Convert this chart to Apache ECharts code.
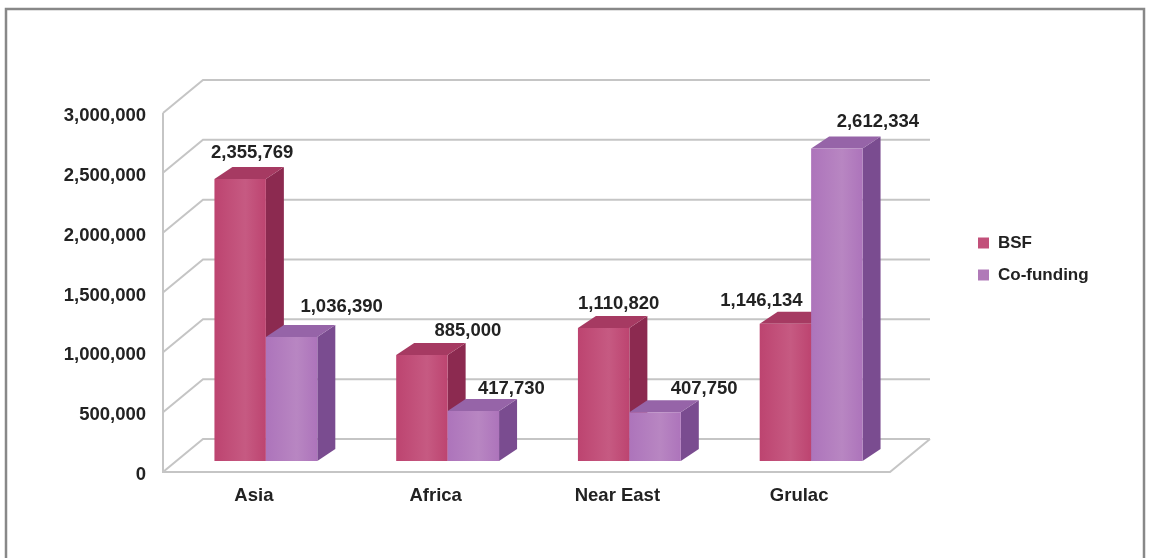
<!DOCTYPE html>
<html>
<head>
<meta charset="utf-8">
<script src="https://cdn.jsdelivr.net/npm/echarts@6/dist/echarts.min.js"></script>
<style>
html,body{margin:0;padding:0;background:#fff;}
#chart{width:1150px;height:558px;}
</style>
</head>
<body>
<div id="chart"></div>
<script>
// ---- data ----
var categories = ['Asia', 'Africa', 'Near East', 'Grulac'];
var seriesNames = ['BSF', 'Co-funding'];
var bsfValues = [2355769, 885000, 1110820, 1146134];
var coFundingValues = [1036390, 417730, 407750, 2612334];
var yTicks = [0, 500000, 1000000, 1500000, 2000000, 2500000, 3000000];

// ---- styles (label nudges mimic the original placement) ----
var labelDx = [[12, 46, 15, -24], [50, 38, 49, 41]];
var labelDy = [[-26, -24, -24, -23], [-30, -22, -23, -26]];
var faceColors = [
  {front: ['#bd4470', '#c65a82'], top: '#a63a62', side: '#8c2a50', legend: '#c2507a'},
  {front: ['#ad74bb', '#b886c2'], top: '#9664a8', side: '#7a4c90', legend: '#b07ab8'}
];
var FONT = 'bold 18.5px "Liberation Sans", Arial, sans-serif';
var DEPTH = [40, -33];     // full floor depth
var BAR_OFF = [12, -11];   // bar front face offset into depth
var BAR_DEPTH = [18, -12]; // bar thickness in depth
var BAR_FRAC = 0.283;

function fmt(v) { return String(v).replace(/\B(?=(\d{3})+(?!\d))/g, ','); }

var chart = echarts.init(document.getElementById('chart'), null, {renderer: 'canvas'});

function wallRender(params, api) {
  var cs = params.coordSys;
  var v = api.value(1);
  var y = api.coord([0, v])[1];
  var col = '#c5c5c5';
  var children = [{
    type: 'polyline',
    shape: {points: [[cs.x, y], [cs.x + DEPTH[0], y + DEPTH[1]], [cs.x + cs.width + DEPTH[0], y + DEPTH[1]]]},
    style: {stroke: col, lineWidth: 2, fill: null}
  }, {
    type: 'text', x: cs.x - 17, y: y + 3,
    style: {text: fmt(v), fill: '#222', font: FONT, align: 'right', verticalAlign: 'middle'}
  }];
  if (params.dataIndex === 0) {
    var b = cs.y + cs.height;
    children.push({
      type: 'polyline',
      shape: {points: [[cs.x, cs.y], [cs.x, b], [cs.x + cs.width, b], [cs.x + cs.width + DEPTH[0], b + DEPTH[1]]]},
      style: {stroke: col, lineWidth: 2, fill: null}
    });
  }
  return {type: 'group', children: children};
}

function makeBarRender(s) {
  return function (params, api) {
    var idx = api.value(0), v = api.value(1);
    var base = api.coord([idx, 0]);
    var topP = api.coord([idx, v]);
    var bandW = api.size([1, 0])[0];
    var w = bandW * BAR_FRAC;
    var xl = base[0] - w + s * w + BAR_OFF[0];
    var xr = xl + w;
    var yt = topP[1] + BAR_OFF[1];
    var yb = base[1] + BAR_OFF[1];
    var dx = BAR_DEPTH[0], dy = BAR_DEPTH[1];
    var c = faceColors[s];
    return {
      type: 'group',
      children: [
        {type: 'polygon', shape: {points: [[xr, yt], [xr + dx, yt + dy], [xr + dx, yb + dy], [xr, yb]]}, style: {fill: c.side}},
        {type: 'polygon', shape: {points: [[xl, yt], [xl + dx, yt + dy], [xr + dx, yt + dy], [xr, yt]]}, style: {fill: c.top}},
        {type: 'rect', shape: {x: xl, y: yt, width: w, height: yb - yt},
         style: {fill: new echarts.graphic.LinearGradient(0, 0, 1, 0, [
           {offset: 0, color: c.front[0]}, {offset: 0.6, color: c.front[1]}, {offset: 1, color: c.front[0]}])}},
        {type: 'text', x: (xl + xr) / 2 + labelDx[s][idx], y: yt + labelDy[s][idx],
         style: {text: fmt(v), fill: '#222', font: FONT, align: 'center', verticalAlign: 'middle'}}
      ]
    };
  };
}

var option = {
  backgroundColor: '#fff',
  animation: false,
  graphic: [{
    type: 'rect', shape: {x: 6, y: 9, width: 1138, height: 620},
    style: {fill: null, stroke: '#888', lineWidth: 2.5}, z: 100
  }],
  legend: {
    data: seriesNames,
    orient: 'vertical',
    left: 973, top: 228,
    itemWidth: 11, itemHeight: 11, itemGap: 12,
    icon: 'rect',
    textStyle: {fontSize: 17, fontWeight: 'bold', color: '#222', fontFamily: '"Liberation Sans", Arial, sans-serif', lineHeight: 20, padding: [0, 0, 0, 4]}
  },
  grid: {left: 163, right: 260, top: 113, bottom: 86},
  xAxis: {
    type: 'category', data: categories,
    axisLine: {show: false}, axisTick: {show: false},
    axisLabel: {fontSize: 18.5, fontWeight: 'bold', color: '#222', margin: 14, fontFamily: '"Liberation Sans", Arial, sans-serif'}
  },
  yAxis: {
    type: 'value', min: 0, max: 3000000, interval: 500000,
    axisLine: {show: false}, axisTick: {show: false}, splitLine: {show: false},
    axisLabel: {show: false}
  },
  series: [
    {type: 'custom', name: 'walls', silent: true, renderItem: wallRender,
     data: yTicks.map(function (t) { return [0, t]; }), z: 1},
    {type: 'custom', name: seriesNames[0], renderItem: makeBarRender(0), itemStyle: {color: faceColors[0].legend},
     data: bsfValues.map(function (v, i) { return [i, v]; }), z: 2},
    {type: 'custom', name: seriesNames[1], renderItem: makeBarRender(1), itemStyle: {color: faceColors[1].legend},
     data: coFundingValues.map(function (v, i) { return [i, v]; }), z: 3}
  ]
};
chart.setOption(option);
</script>
</body>
</html>
